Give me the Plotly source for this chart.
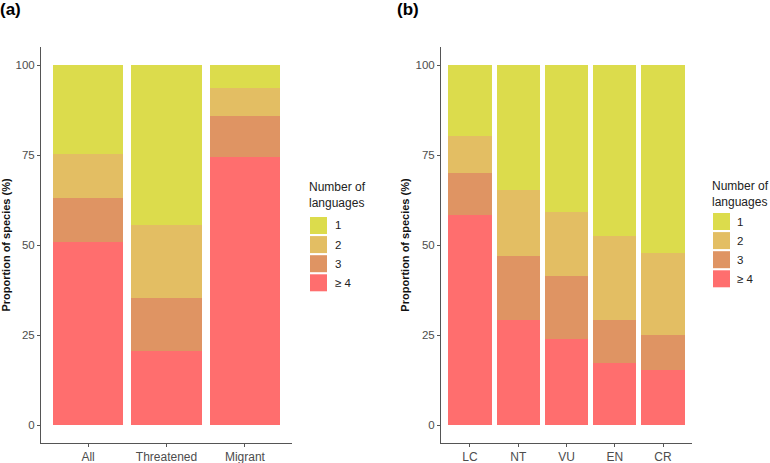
import plotly.graph_objects as go

W, H = 770, 463

# Panel (a)
cats_a = ["All", "Threatened", "Migrant"]
a_ge4 = [50.8, 20.6, 74.5]
a_3 = [12.2, 14.6, 11.4]
a_2 = [12.4, 20.4, 7.7]
a_1 = [24.6, 44.4, 6.4]

# Panel (b)
cats_b = ["LC", "NT", "VU", "EN", "CR"]
b_ge4 = [58.4, 29.1, 23.9, 17.1, 15.4]
b_3 = [11.5, 17.9, 17.4, 12.0, 9.6]
b_2 = [10.3, 18.4, 17.8, 23.4, 22.9]
b_1 = [19.8, 34.6, 40.9, 47.5, 52.1]

series_names = ["\u2265 4", "3", "2", "1"]
colors = ["#FF6E6E", "#DF9463", "#E3BE63", "#DCDC4C"]
legend_title = "Number of<br>languages"
y_title = "<b>Proportion of species (%)</b>"

fig = go.Figure()
for name, col, va, vb in zip(series_names, colors,
                             [a_ge4, a_3, a_2, a_1], [b_ge4, b_3, b_2, b_1]):
    fig.add_trace(go.Bar(x=cats_a, y=va, name=name, marker=dict(color=col, line=dict(width=0)),
                         xaxis="x", yaxis="y", showlegend=False))
    fig.add_trace(go.Bar(x=cats_b, y=vb, name=name, marker=dict(color=col, line=dict(width=0)),
                         xaxis="x2", yaxis="y2", showlegend=False))

ydom = [1 - 443 / H, 1 - 47 / H]
FONT = "Liberation Sans, Arial, sans-serif"
axis_common = dict(showgrid=False, zeroline=False, showline=True, linecolor="#555555", linewidth=1,
                   ticks="outside", ticklen=3, tickcolor="#555555")
xfont = dict(family=FONT, size=12, color="#4D4D4D")
yfont = dict(family=FONT, size=11.5, color="#4D4D4D")

# manual legends (styling only): square boxes + labels, ordered 1,2,3,>=4 top to bottom
shapes = []
annotations = []


def add_legend(title_x, title_y, box_x, box_y0, pitch, label_x):
    annotations.append(dict(text=legend_title, x=title_x / W, y=1 - title_y / H, xref="paper", yref="paper",
                            xanchor="left", yanchor="top", align="left", showarrow=False,
                            font=dict(family=FONT, size=12, color="#222222")))
    for i, (name, col) in enumerate(zip(series_names[::-1], colors[::-1])):
        y0 = box_y0 + i * pitch
        shapes.append(dict(type="rect", xref="paper", yref="paper",
                           x0=box_x / W, x1=(box_x + 17) / W, y0=1 - y0 / H, y1=1 - (y0 + 17) / H,
                           fillcolor=col, line=dict(width=0)))
        annotations.append(dict(text=name, x=label_x / W, y=1 - (y0 + 8.5) / H, xref="paper", yref="paper",
                                xanchor="left", yanchor="middle", showarrow=False,
                                font=dict(family=FONT, size=11.5, color="#222222")))


add_legend(307, 178, 310, 217, 19.1, 333)
add_legend(710, 177, 713, 213, 19.1, 735)

annotations += [
    dict(text="<b>(a)</b>", x=0, y=1, xref="paper", yref="paper", xanchor="left", yanchor="top",
         showarrow=False, font=dict(family=FONT, size=17, color="black"), xshift=-2, yshift=2),
    dict(text="<b>(b)</b>", x=397 / W, y=1, xref="paper", yref="paper", xanchor="left", yanchor="top",
         showarrow=False, font=dict(family=FONT, size=17, color="black"), xshift=-2, yshift=2),
]

fig.update_layout(
    width=W, height=H, margin=dict(l=0, r=0, t=0, b=0),
    paper_bgcolor="white", plot_bgcolor="white",
    barmode="stack", bargap=0.1, showlegend=False,
    font=dict(family=FONT, color="#222222"),
    xaxis=dict(domain=[41 / W, 292 / W], anchor="y", range=[-0.6, 2.6], tickfont=xfont, **axis_common),
    yaxis=dict(domain=ydom, anchor="x", range=[-5, 105], tickvals=[0, 25, 50, 75, 100], tickfont=yfont,
               title=dict(text=y_title, standoff=3, font=dict(family=FONT, size=11, color="#111111")),
               **axis_common),
    xaxis2=dict(domain=[441 / W, 692 / W], anchor="y2", range=[-0.6, 4.6], tickfont=xfont, **axis_common),
    yaxis2=dict(domain=ydom, anchor="x2", range=[-5, 105], tickvals=[0, 25, 50, 75, 100], tickfont=yfont,
                title=dict(text=y_title, standoff=3, font=dict(family=FONT, size=11, color="#111111")),
                **axis_common),
    shapes=shapes,
    annotations=annotations,
)

fig.write_html("out.html", config={"displayModeBar": False},
               post_script="document.body.style.margin='0px';")
